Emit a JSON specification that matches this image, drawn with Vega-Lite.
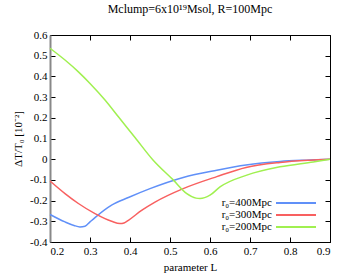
{
  "$schema": "https://vega.github.io/schema/vega-lite/v6.json",
  "autosize": {"type": "none"},
  "width": 280,
  "height": 207,
  "padding": {"left": 50, "top": 35, "right": 20, "bottom": 38},
  "background": "white",
  "title": {"text": "Mclump=6x10¹⁹Msol, R=100Mpc", "font": "Liberation Serif", "fontSize": 12, "fontWeight": "normal", "offset": 13, "color": "black"},
  "config": {
    "view": {"stroke": "black", "strokeWidth": 1},
    "axis": {"labelFont": "Liberation Serif", "titleFont": "Liberation Serif", "labelFontSize": 11, "titleFontSize": 11, "titleFontWeight": "normal", "labelColor": "black", "titleColor": "black", "grid": false, "tickColor": "black", "domainColor": "black", "tickSize": -5, "labelPadding": 8}
  },
  "data": {"values": [
    {"s": "r₀=400Mpc", "L": 0.2, "v": -0.267},
    {"s": "r₀=400Mpc", "L": 0.2375, "v": -0.303},
    {"s": "r₀=400Mpc", "L": 0.26, "v": -0.32},
    {"s": "r₀=400Mpc", "L": 0.275, "v": -0.327},
    {"s": "r₀=400Mpc", "L": 0.2875, "v": -0.324},
    {"s": "r₀=400Mpc", "L": 0.3, "v": -0.303},
    {"s": "r₀=400Mpc", "L": 0.3125, "v": -0.282},
    {"s": "r₀=400Mpc", "L": 0.354, "v": -0.222},
    {"s": "r₀=400Mpc", "L": 0.396, "v": -0.185},
    {"s": "r₀=400Mpc", "L": 0.45, "v": -0.142},
    {"s": "r₀=400Mpc", "L": 0.533, "v": -0.088},
    {"s": "r₀=400Mpc", "L": 0.617, "v": -0.053},
    {"s": "r₀=400Mpc", "L": 0.69, "v": -0.028},
    {"s": "r₀=400Mpc", "L": 0.775, "v": -0.011},
    {"s": "r₀=400Mpc", "L": 0.85, "v": -0.004},
    {"s": "r₀=400Mpc", "L": 0.9, "v": 0},
    {"s": "r₀=300Mpc", "L": 0.2, "v": -0.105},
    {"s": "r₀=300Mpc", "L": 0.2375, "v": -0.166},
    {"s": "r₀=300Mpc", "L": 0.271, "v": -0.214},
    {"s": "r₀=300Mpc", "L": 0.3125, "v": -0.263},
    {"s": "r₀=300Mpc", "L": 0.354, "v": -0.3},
    {"s": "r₀=300Mpc", "L": 0.375, "v": -0.311},
    {"s": "r₀=300Mpc", "L": 0.385, "v": -0.308},
    {"s": "r₀=300Mpc", "L": 0.396, "v": -0.295},
    {"s": "r₀=300Mpc", "L": 0.429, "v": -0.247},
    {"s": "r₀=300Mpc", "L": 0.4625, "v": -0.207},
    {"s": "r₀=300Mpc", "L": 0.533, "v": -0.142},
    {"s": "r₀=300Mpc", "L": 0.617, "v": -0.084},
    {"s": "r₀=300Mpc", "L": 0.69, "v": -0.04},
    {"s": "r₀=300Mpc", "L": 0.775, "v": -0.016},
    {"s": "r₀=300Mpc", "L": 0.85, "v": -0.005},
    {"s": "r₀=300Mpc", "L": 0.9, "v": 0},
    {"s": "r₀=200Mpc", "L": 0.2, "v": 0.536},
    {"s": "r₀=200Mpc", "L": 0.2375, "v": 0.479},
    {"s": "r₀=200Mpc", "L": 0.271, "v": 0.422},
    {"s": "r₀=200Mpc", "L": 0.3, "v": 0.366},
    {"s": "r₀=200Mpc", "L": 0.3375, "v": 0.286},
    {"s": "r₀=200Mpc", "L": 0.371, "v": 0.205},
    {"s": "r₀=200Mpc", "L": 0.4125, "v": 0.105},
    {"s": "r₀=200Mpc", "L": 0.458, "v": -0.005},
    {"s": "r₀=200Mpc", "L": 0.508, "v": -0.1},
    {"s": "r₀=200Mpc", "L": 0.542, "v": -0.166},
    {"s": "r₀=200Mpc", "L": 0.565, "v": -0.188},
    {"s": "r₀=200Mpc", "L": 0.575, "v": -0.19},
    {"s": "r₀=200Mpc", "L": 0.6, "v": -0.174},
    {"s": "r₀=200Mpc", "L": 0.625, "v": -0.134},
    {"s": "r₀=200Mpc", "L": 0.692, "v": -0.077},
    {"s": "r₀=200Mpc", "L": 0.775, "v": -0.037},
    {"s": "r₀=200Mpc", "L": 0.858, "v": -0.013},
    {"s": "r₀=200Mpc", "L": 0.9, "v": 0}
  ]},
  "layer": [
    {
      "mark": {"type": "line", "strokeWidth": 1.5, "interpolate": "monotone"},
      "encoding": {
        "x": {"field": "L", "type": "quantitative", "scale": {"domain": [0.2, 0.9], "nice": false},
              "axis": {"title": "parameter L", "values": [0.2,0.3,0.4,0.5,0.6,0.7,0.8,0.9], "format": ".1f", "titlePadding": 5}},
        "y": {"field": "v", "type": "quantitative", "scale": {"domain": [-0.4, 0.6], "nice": false},
              "axis": {"title": "ΔT/T₀ [10⁻²]", "values": [-0.4,-0.3,-0.2,-0.1,0,0.1,0.2,0.3,0.4,0.5,0.6],
                       "labelExpr": "replace(format(datum.value, '.1~f'), '−', '-')", "domainColor": "#888888", "domainWidth": 2, "titlePadding": 6}},
        "color": {"field": "s", "type": "nominal",
                  "scale": {"domain": ["r₀=400Mpc", "r₀=300Mpc", "r₀=200Mpc"], "range": ["#6090f8", "#f86060", "#a0f050"]},
                  "legend": {"title": null, "orient": "bottom-right", "offset": 10, "symbolType": "M-4,0H4", "symbolSize": 100, "symbolStrokeWidth": 2,
                             "labelAlign": "right", "labelOffset": -30, "labelFont": "Liberation Serif", "labelFontSize": 11, "labelColor": "black", "rowPadding": 1}}
      }
    },
    {
      "mark": {"type": "line", "opacity": 0},
      "encoding": {
        "x": {"field": "L", "type": "quantitative", "axis": {"orient": "top", "title": null, "labels": false, "domain": false, "values": [0.2,0.3,0.4,0.5,0.6,0.7,0.8,0.9]}},
        "y": {"field": "v", "type": "quantitative", "axis": {"orient": "right", "title": null, "labels": false, "domain": false, "values": [-0.4,-0.3,-0.2,-0.1,0,0.1,0.2,0.3,0.4,0.5,0.6]}},
        "detail": {"field": "s"}
      }
    }
  ],
  "resolve": {"axis": {"x": "independent", "y": "independent"}}
}
